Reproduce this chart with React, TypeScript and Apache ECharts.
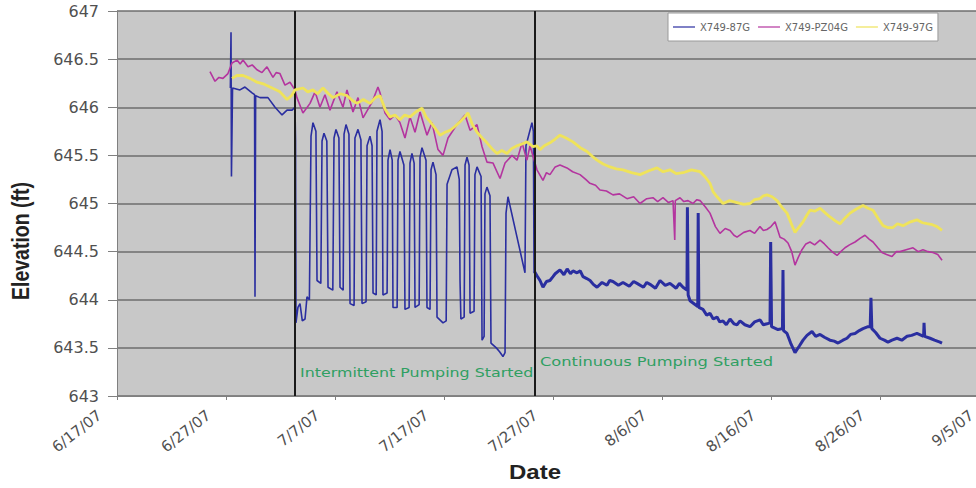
import React, { useEffect, useRef } from "react";
import * as echarts from "echarts";

// x = days since 6/17/07, y = elevation (ft)
const tickLabels = ["6/17/07", "6/27/07", "7/7/07", "7/17/07", "7/27/07", "8/6/07", "8/16/07", "8/26/07", "9/5/07"];
const seriesNames = ["X749-87G", "X749-PZ04G", "X749-97G"];
const seriesColors = ["#2a2ea0", "#b4359f", "#efe35a"];
const eventDays = [16.33, 38.3];
const eventLabels = ["Intermittent Pumping Started", "Continuous Pumping Started"];
const xTitle = "Date";
const yTitle = "Elevation (ft)";

// X749-87G before continuous pumping
const well87GEarly: [number, number][] = [
  [10.4, 646.2], [10.46, 646.78], [10.5, 645.28], [10.6, 646.2], [11.28, 646.18], [11.74, 646.21],
  [12.39, 646.15], [12.62, 646.13], [12.66, 644.03], [12.72, 646.12], [13.12, 646.1], [13.85, 646.1],
  [14.5, 646.0], [15.14, 645.92], [15.6, 645.97], [16.06, 645.97], [16.33, 646.0], [16.38, 645.66],
  [16.42, 643.76], [16.6, 643.92], [16.79, 643.96], [17.0, 643.78], [17.25, 643.8], [17.43, 644.03],
  [17.65, 644.0], [17.8, 645.7], [17.98, 645.84], [18.25, 645.75], [18.35, 644.2], [18.7, 644.17],
  [18.81, 645.65], [18.99, 645.73], [19.25, 645.65], [19.36, 644.13], [19.8, 644.1], [19.91, 645.68],
  [20.09, 645.77], [20.36, 645.68], [20.46, 644.13], [20.75, 644.1], [20.83, 645.72], [21.01, 645.82],
  [21.28, 645.72], [21.38, 643.96], [21.75, 643.94], [21.83, 645.68], [22.11, 645.77], [22.38, 645.66],
  [22.48, 643.96], [22.85, 643.98], [22.94, 645.6], [23.21, 645.7], [23.4, 645.6], [23.49, 644.07],
  [23.78, 644.05], [23.85, 645.75], [24.13, 645.87], [24.32, 645.75], [24.4, 644.05], [24.78, 644.07],
  [24.86, 645.45], [25.05, 645.56], [25.25, 645.45], [25.32, 643.92], [25.7, 643.92], [25.78, 645.45],
  [25.96, 645.54], [26.32, 645.4], [26.42, 643.9], [26.8, 643.92], [26.88, 645.42], [27.06, 645.52],
  [27.26, 645.42], [27.34, 643.92], [27.72, 643.95], [27.8, 645.48], [27.98, 645.58], [28.35, 645.45],
  [28.44, 643.92], [28.72, 643.9], [28.81, 645.35], [28.99, 645.43], [29.27, 645.3], [29.36, 643.82],
  [29.91, 643.76], [30.2, 643.78], [30.28, 645.2], [30.73, 645.35], [31.19, 645.38], [31.4, 645.25],
  [31.47, 644.2], [31.55, 643.8], [31.85, 643.82], [31.93, 645.4], [32.11, 645.48], [32.3, 645.4],
  [32.39, 643.86], [32.76, 643.88], [32.84, 645.3], [33.03, 645.38], [33.4, 645.28], [33.49, 643.58],
  [33.68, 643.62], [33.76, 645.1], [33.94, 645.17], [34.22, 645.08], [34.31, 643.55], [34.8, 643.5],
  [35.1, 643.46], [35.41, 643.41], [35.6, 643.45], [35.69, 644.9], [35.87, 645.07], [36.6, 644.7],
  [37.43, 644.28], [37.52, 645.6], [38.07, 645.84], [38.2, 645.75], [38.26, 644.3],
];

// X749-87G during continuous pumping
const well87GLate: [number, number][] = [
  [38.26, 644.3], [38.53, 644.25],
  [38.81, 644.2], [39.08, 644.13], [39.4, 644.19], [39.72, 644.2], [40.0, 644.24], [40.2, 644.27],
  [40.64, 644.31], [41.0, 644.26], [41.3, 644.32], [41.6, 644.27], [41.83, 644.3], [42.2, 644.28],
  [42.5, 644.3], [42.75, 644.24], [43.1, 644.22], [43.4, 644.2], [43.7, 644.16], [44.04, 644.13],
  [44.5, 644.18], [44.95, 644.15], [45.2, 644.2], [45.5, 644.19], [46.0, 644.15], [46.42, 644.18],
  [47.0, 644.14], [47.4, 644.19], [47.71, 644.17], [48.3, 644.13], [48.6, 644.18], [48.9, 644.16],
  [49.4, 644.12], [49.82, 644.2], [50.3, 644.15], [50.73, 644.17], [51.3, 644.12], [51.6, 644.17],
  [51.93, 644.13], [52.29, 644.1], [52.33, 644.96], [52.4, 644.05], [52.57, 643.99], [53.03, 643.95],
  [53.28, 643.93], [53.32, 644.9], [53.38, 643.92], [53.76, 643.9], [54.1, 643.84], [54.4, 643.86],
  [54.7, 643.8], [55.05, 643.82], [55.3, 643.77], [55.6, 643.78], [55.9, 643.74], [56.24, 643.8],
  [56.6, 643.75], [56.88, 643.74], [57.16, 643.78], [57.6, 643.74], [58.07, 643.72], [58.5, 643.77],
  [58.99, 643.79], [59.3, 643.74], [59.63, 643.75], [59.91, 643.76], [59.97, 644.6], [60.05, 643.72],
  [60.64, 643.69], [61.05, 643.7], [61.1, 644.31], [61.15, 643.68], [61.47, 643.65], [61.8, 643.55],
  [62.2, 643.45], [62.6, 643.52], [62.94, 643.58], [63.3, 643.63], [63.76, 643.67], [64.1, 643.62],
  [64.5, 643.64], [64.9, 643.61], [65.41, 643.58], [65.8, 643.57], [66.15, 643.55], [66.6, 643.58],
  [66.97, 643.6], [67.3, 643.64], [67.71, 643.65], [68.1, 643.68], [68.44, 643.7], [68.9, 643.72],
  [69.1, 643.72], [69.17, 644.02], [69.25, 643.7], [69.6, 643.66], [70.0, 643.6], [70.4, 643.58],
  [70.73, 643.56], [71.1, 643.58], [71.56, 643.6], [72.0, 643.58], [72.48, 643.62], [72.9, 643.63],
  [73.39, 643.65], [74.0, 643.62], [74.04, 643.76], [74.1, 643.62], [74.59, 643.6], [75.0, 643.58],
  [75.5, 643.56], [75.69, 643.55],
];

const wellPZ04G: [number, number][] = [
  [8.53, 646.37], [8.99, 646.27], [9.35, 646.31], [9.72, 646.3], [10.18, 646.35], [10.55, 646.46],
  [11.01, 646.49], [11.3, 646.45], [11.56, 646.49], [12.02, 646.42], [12.4, 646.44], [12.84, 646.39],
  [13.3, 646.36], [13.76, 646.42], [14.31, 646.31], [14.6, 646.36], [14.95, 646.35], [15.41, 646.23],
  [15.87, 646.26], [16.33, 646.18], [16.51, 646.1], [17.06, 645.94], [17.71, 646.04], [18.17, 646.16],
  [18.62, 646.0], [19.08, 646.13], [19.54, 645.97], [20.18, 646.16], [20.73, 646.0], [21.1, 646.18],
  [21.65, 645.95], [22.11, 646.1], [22.57, 645.89], [23.39, 646.05], [23.94, 646.21], [24.13, 646.15],
  [24.59, 645.94], [25.05, 645.87], [25.5, 645.92], [25.96, 645.84], [26.42, 645.68], [26.88, 645.9],
  [27.34, 645.74], [27.8, 645.95], [28.44, 645.71], [28.9, 645.84], [29.45, 645.56], [29.91, 645.5],
  [30.37, 645.68], [31.19, 645.82], [31.93, 645.92], [32.39, 645.76], [33.03, 645.82], [33.49, 645.59],
  [33.94, 645.43], [34.5, 645.42], [35.14, 645.26], [35.6, 645.42], [36.24, 645.5], [36.7, 645.45],
  [37.16, 645.63], [37.61, 645.45], [37.89, 645.6], [38.53, 645.35], [39.08, 645.24], [39.4, 645.32],
  [39.72, 645.3], [40.2, 645.38], [40.64, 645.4], [41.28, 645.37], [41.8, 645.33], [42.48, 645.3],
  [43.0, 645.25], [43.39, 645.21], [43.9, 645.19], [44.31, 645.14], [44.9, 645.13], [45.5, 645.09],
  [46.1, 645.1], [46.79, 645.05], [47.4, 645.07], [47.98, 645.0], [48.6, 645.05], [49.17, 645.06],
  [49.6, 645.02], [50.09, 645.06], [50.6, 645.01], [51.01, 645.03], [51.17, 644.62], [51.22, 645.03],
  [51.65, 645.06], [52.0, 645.02], [52.39, 645.03], [52.84, 645.0], [53.2, 645.04], [53.49, 645.03],
  [54.0, 644.96], [54.4, 644.9], [54.9, 644.76], [55.32, 644.69], [55.8, 644.74], [56.24, 644.72],
  [56.6, 644.67], [56.88, 644.65], [57.5, 644.7], [58.07, 644.72], [58.5, 644.69], [58.99, 644.76],
  [59.3, 644.72], [59.63, 644.73], [60.0, 644.76], [60.37, 644.81], [60.83, 644.65], [61.2, 644.63],
  [61.56, 644.59], [61.9, 644.5], [62.2, 644.36], [62.5, 644.44], [62.84, 644.52], [63.2, 644.58],
  [63.58, 644.6], [64.0, 644.57], [64.5, 644.62], [64.9, 644.58], [65.23, 644.54], [65.6, 644.5],
  [66.06, 644.46], [66.4, 644.5], [66.79, 644.54], [67.2, 644.57], [67.71, 644.6], [68.2, 644.64],
  [68.62, 644.67], [69.0, 644.63], [69.36, 644.6], [69.8, 644.54], [70.18, 644.49], [70.6, 644.47],
  [71.1, 644.45], [71.5, 644.5], [71.83, 644.5], [72.4, 644.52], [73.03, 644.54], [73.5, 644.5],
  [73.94, 644.52], [74.4, 644.5], [74.86, 644.49], [75.3, 644.47], [75.69, 644.41],
];

const well97G: [number, number][] = [
  [10.55, 646.3], [11.01, 646.33], [11.56, 646.33], [12.2, 646.3], [12.84, 646.26], [13.5, 646.24],
  [14.04, 646.21], [14.95, 646.16], [15.6, 646.08], [16.0, 646.12], [16.33, 646.18], [17.06, 646.2],
  [17.5, 646.16], [17.98, 646.18], [18.4, 646.14], [18.9, 646.2], [19.4, 646.14], [19.82, 646.1],
  [20.5, 646.14], [21.1, 646.12], [21.6, 646.07], [22.02, 646.04], [22.6, 646.08], [23.21, 646.04],
  [23.7, 646.1], [24.13, 646.12], [24.6, 645.98], [25.05, 645.9], [25.5, 645.92], [25.96, 645.87],
  [26.4, 645.92], [26.88, 645.9], [27.4, 645.95], [27.98, 645.99], [28.35, 645.9], [28.72, 645.85],
  [29.2, 645.78], [29.63, 645.71], [30.1, 645.74], [30.55, 645.76], [31.0, 645.8], [31.47, 645.85],
  [31.9, 645.9], [32.2, 645.94], [32.6, 645.82], [33.03, 645.74], [33.5, 645.68], [33.94, 645.63],
  [34.4, 645.57], [34.86, 645.52], [35.3, 645.55], [35.78, 645.52], [36.2, 645.57], [36.7, 645.6],
  [37.2, 645.62], [37.61, 645.64], [38.17, 645.59], [38.5, 645.6], [38.81, 645.56], [39.2, 645.6],
  [39.72, 645.63], [40.2, 645.67], [40.64, 645.71], [41.2, 645.68], [41.83, 645.64], [42.5, 645.58],
  [43.12, 645.54], [43.6, 645.49], [44.04, 645.45], [44.6, 645.41], [45.23, 645.38], [45.8, 645.36],
  [46.42, 645.35], [47.2, 645.32], [47.98, 645.3], [48.8, 645.34], [49.54, 645.37], [50.1, 645.33],
  [50.73, 645.35], [51.3, 645.31], [51.93, 645.32], [52.7, 645.35], [53.49, 645.33], [54.0, 645.27],
  [54.4, 645.21], [54.7, 645.12], [55.05, 645.07], [55.6, 645.0], [56.2, 645.03], [56.88, 645.01],
  [57.5, 644.99], [58.07, 645.0], [58.5, 645.04], [58.99, 645.05], [59.3, 645.08], [59.63, 645.09],
  [60.1, 645.07], [60.55, 645.03], [61.0, 644.96], [61.47, 644.9], [61.9, 644.78], [62.2, 644.7],
  [62.6, 644.76], [62.94, 644.81], [63.3, 644.88], [63.58, 644.93], [64.0, 644.92], [64.5, 644.95],
  [65.0, 644.9], [65.41, 644.86], [65.9, 644.82], [66.33, 644.79], [66.8, 644.85], [67.25, 644.9],
  [67.8, 644.94], [68.44, 644.98], [68.9, 644.95], [69.36, 644.93], [69.8, 644.85], [70.28, 644.77],
  [70.7, 644.75], [71.19, 644.75], [71.6, 644.79], [72.11, 644.77], [72.8, 644.81], [73.39, 644.83],
  [73.9, 644.8], [74.31, 644.79], [74.8, 644.78], [75.23, 644.76], [75.69, 644.72],
];

export default function App() {
  const ref = useRef<HTMLDivElement>(null);
  useEffect(() => {
    if (!ref.current) return;
    const chart = echarts.init(ref.current, undefined, { renderer: "svg" });
    const mk = (name: string, data: [number, number][], color: string, width: number, z: number) => ({
      name,
      type: "line",
      data,
      symbol: "none",
      color,
      lineStyle: { width, color },
      z,
    });
    const series: any[] = [
      mk(seriesNames[0], well87GEarly, seriesColors[0], 1.6, 3),
      mk(seriesNames[0], well87GLate, seriesColors[0], 3.0, 3),
      mk(seriesNames[1], wellPZ04G, seriesColors[1], 1.6, 4),
      mk(seriesNames[2], well97G, seriesColors[2], 2.8, 5),
    ];
    series.push({
      name: "events",
      type: "line",
      data: [],
      silent: true,
      z: 10,
      markLine: {
        symbol: "none",
        silent: true,
        label: { show: false },
        lineStyle: { color: "#1a1a1a", width: 2, type: "solid" },
        data: eventDays.map((d) => ({ xAxis: d })),
      },
    });
    chart.setOption({
      animation: false,
      backgroundColor: "#ffffff",
      grid: {
        left: 117,
        width: 872,
        top: 11,
        height: 385,
        outerBoundsMode: "none",
        containLabel: false,
        show: true,
        backgroundColor: "#c8c8c8",
        borderWidth: 0,
      },
      legend: {
        data: seriesNames,
        left: 668,
        top: 13,
        orient: "horizontal",
        icon: "rect",
        itemWidth: 22,
        itemHeight: 1.2,
        itemGap: 8,
        backgroundColor: "#ffffff",
        borderColor: "#9a9a9a",
        borderWidth: 1,
        padding: [9, 5, 9, 5],
        textStyle: { fontFamily: "DejaVu Sans", fontSize: 10, color: "#666666" },
      },
      xAxis: {
        type: "value",
        min: 0,
        max: 80,
        interval: 10,
        axisLine: { show: true, lineStyle: { color: "#808080", width: 1 } },
        axisTick: { show: true, length: 4, lineStyle: { color: "#808080" } },
        splitLine: { show: false },
        axisLabel: {
          rotate: 38,
          margin: 4,
          fontFamily: "DejaVu Sans",
          fontSize: 15,
          color: "#505050",
          showMinLabel: true,
          showMaxLabel: true,
          formatter: (v: number) => "{t|" + (tickLabels[Math.round(v / 10)] ?? "") + "}",
          rich: {
            t: { fontFamily: "DejaVu Sans", fontSize: 15, color: "#505050", padding: [0, 22, 0, 0] },
          },
        },
      },
      yAxis: {
        type: "value",
        min: 643,
        max: 647,
        interval: 0.5,
        axisLine: { show: true, lineStyle: { color: "#808080", width: 1 } },
        axisTick: { show: true, length: 9, inside: false, lineStyle: { color: "#808080" } },
        splitLine: { show: true, lineStyle: { color: "#6e6e6e", width: 1.5 } },
        axisLabel: {
          margin: 18,
          fontFamily: "DejaVu Sans",
          fontSize: 16,
          color: "#505050",
        },
      },
      graphic: [
        {
          type: "text",
          x: 300,
          y: 373,
          scaleX: 1.22,
          z: 20,
          style: { text: eventLabels[0], fill: "#2f9f62", font: "13px 'DejaVu Sans'", verticalAlign: "middle" },
        },
        {
          type: "text",
          x: 540,
          y: 361,
          scaleX: 1.25,
          z: 20,
          style: { text: eventLabels[1], fill: "#2f9f62", font: "13px 'DejaVu Sans'", verticalAlign: "middle" },
        },
        {
          type: "text",
          x: 535,
          y: 472,
          scaleX: 1.2,
          z: 20,
          style: {
            text: xTitle,
            fill: "#222222",
            font: "bold 20px 'Liberation Sans'",
            align: "center",
            verticalAlign: "middle",
          },
        },
        {
          type: "text",
          x: 21,
          y: 241,
          rotation: Math.PI / 2,
          scaleY: 1.2,
          z: 20,
          style: {
            text: yTitle,
            fill: "#222222",
            font: "bold 19.5px 'Liberation Sans'",
            align: "center",
            verticalAlign: "middle",
          },
        },
      ],
      series,
    });
    return () => chart.dispose();
  }, []);
  return (
    <div
      ref={ref}
      style={{ position: "fixed", left: 0, top: 0, width: 976, height: 488, background: "#fff" }}
    />
  );
}
